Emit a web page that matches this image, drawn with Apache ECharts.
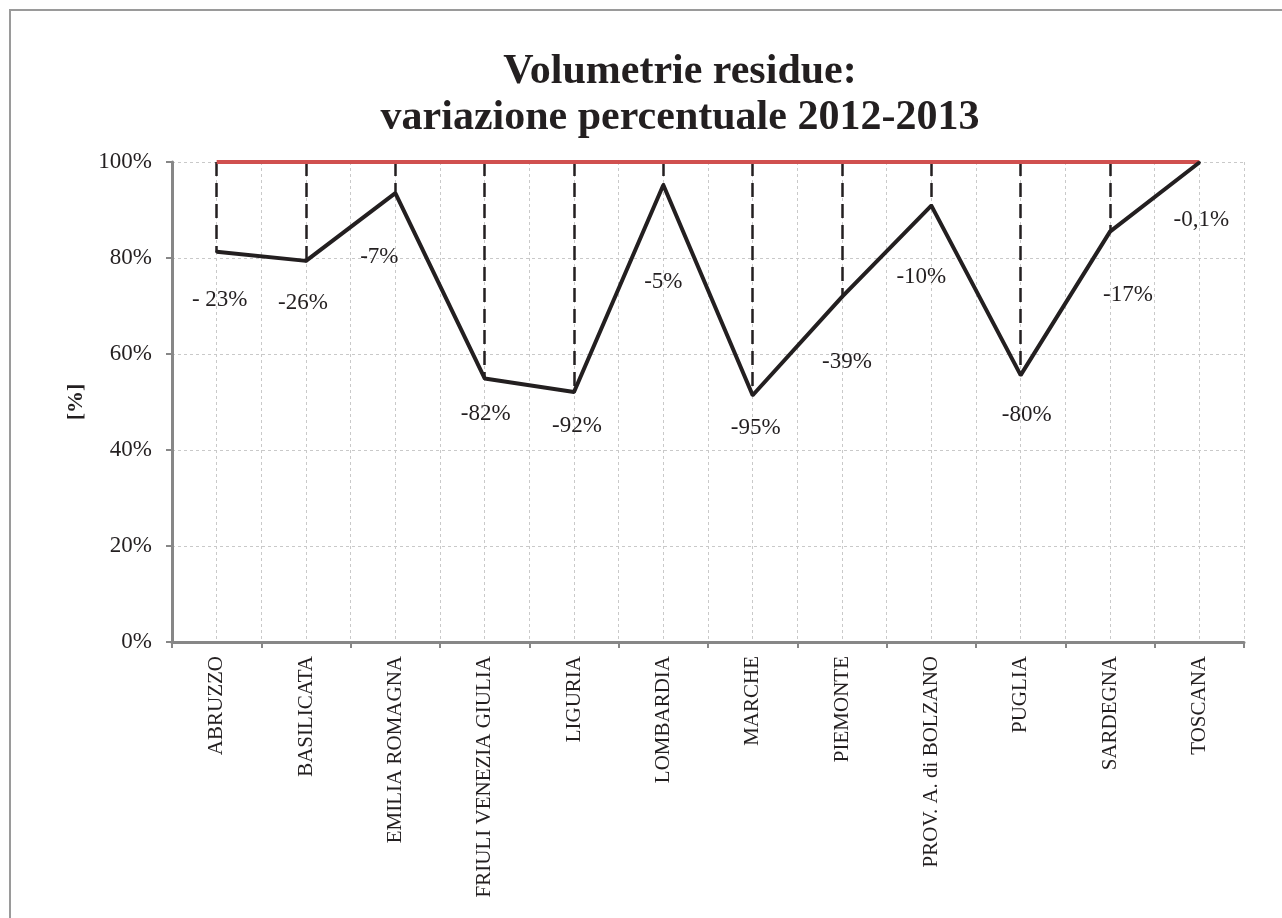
<!DOCTYPE html>
<html>
<head>
<meta charset="utf-8">
<title>Volumetrie residue</title>
<script src="https://cdn.jsdelivr.net/npm/echarts@6/dist/echarts.min.js"></script>
<style>
  html, body { margin: 0; padding: 0; background: #fff; }
  #chart { width: 1282px; height: 918px; }
</style>
</head>
<body>
<div id="chart"></div>
<script>
// regioni
const regions = [
  'ABRUZZO', 'BASILICATA', 'EMILIA ROMAGNA', 'FRIULI VENEZIA GIULIA', 'LIGURIA',
  'LOMBARDIA', 'MARCHE', 'PIEMONTE', 'PROV. A. di BOLZANO', 'PUGLIA', 'SARDEGNA', 'TOSCANA'
]
// volumetrie residue 2013 rispetto al 2012 (%)
const residue = [81.3, 79.4, 93.5, 54.9, 52.1, 95.2, 51.4, 71.9, 90.9, 55.6, 85.5, 99.9]
// riferimento 2012 = 100%
const reference = [100, 100, 100, 100, 100, 100, 100, 100, 100, 100, 100, 100]
// etichette variazione
const changeLabels = ['- 23%', '-26%', '-7%', '-82%', '-92%', '-5%', '-95%', '-39%', '-10%', '-80%', '-17%', '-0,1%']
const yTicks = [0, 20, 40, 60, 80, 100]

const serif = '"Liberation Serif", "Times New Roman", serif'
const ink = '#231f20'

// spostamento etichette (px) rispetto al punto
const labelShift = [
  [3, 48], [-3, 42], [-16, 64], [1, 35], [3, 34], [0, 97],
  [3, 33], [5, 65], [-10, 71], [6, 40], [18, 63], [2, 57]
]

const chart = echarts.init(document.getElementById('chart'))

const grid = { left: 172, right: 38, top: 162, bottom: 276 }

const option = {
  animation: false,
  backgroundColor: '#fff',
  graphic: [
    {
      type: 'rect',
      shape: { x: 10, y: 10, width: 1400, height: 1000 },
      style: { fill: 'none', stroke: '#9a9a9a', lineWidth: 2 },
      silent: true
    },
    {
      type: 'text',
      x: 680, y: 72,
      style: {
        text: 'Volumetrie residue:',
        font: 'bold 42px ' + serif,
        fill: ink, align: 'center', verticalAlign: 'middle'
      }
    },
    {
      type: 'text',
      x: 680, y: 118,
      style: {
        text: 'variazione percentuale 2012-2013',
        font: 'bold 42px ' + serif,
        fill: ink, align: 'center', verticalAlign: 'middle'
      }
    }
  ],
  grid: grid,
  xAxis: [
    {
      type: 'category',
      data: regions,
      boundaryGap: true,
      axisLine: { lineStyle: { color: '#878787', width: 3 } },
      axisTick: { show: true, length: 6, lineStyle: { color: '#878787', width: 2 } },
      axisLabel: {
        rotate: 90,
        interval: 0,
        margin: 14,
        fontFamily: serif,
        fontSize: 21,
        color: ink
      },
      splitLine: { show: false }
    },
    {
      // griglia verticale ogni mezza categoria
      type: 'value',
      min: 0,
      max: regions.length * 2,
      interval: 1,
      show: true,
      position: 'top',
      axisLine: { show: false },
      axisTick: { show: false },
      axisLabel: { show: false },
      splitLine: { show: true, lineStyle: { color: '#c9c9c9', width: 1, type: [3, 3] } }
    }
  ],
  yAxis: {
    type: 'value',
    min: 0,
    max: 100,
    interval: 20,
    name: '[%]',
    nameLocation: 'middle',
    nameGap: 83,
    nameTextStyle: {
      fontFamily: serif,
      fontSize: 22,
      fontWeight: 'bold',
      color: ink
    },
    axisLine: { show: true, lineStyle: { color: '#878787', width: 3 } },
    axisTick: { show: true, length: 6, lineStyle: { color: '#878787', width: 2 } },
    axisLabel: {
      margin: 20,
      fontFamily: serif,
      fontSize: 23,
      color: ink,
      formatter: v => yTicks.includes(v) ? v + '%' : ''
    },
    splitLine: { show: true, lineStyle: { color: '#c9c9c9', width: 1, type: [3, 3] } }
  },
  series: [
    {
      type: 'line',
      name: 'riferimento',
      data: reference,
      symbol: 'none',
      z: 4,
      lineStyle: { color: '#d0504f', width: 4 }
    },
    {
      type: 'line',
      name: 'residue',
      data: residue.map((v, i) => ({
        value: v,
        label: { offset: labelShift[i] }
      })),
      symbol: 'circle',
      symbolSize: 3,
      itemStyle: { color: ink },
      lineStyle: { color: ink, width: 4 },
      z: 5,
      label: {
        show: true,
        position: 'inside',
        align: 'center',
        verticalAlign: 'middle',
        fontFamily: serif,
        fontSize: 23,
        color: ink,
        formatter: p => changeLabels[p.dataIndex]
      },
      markLine: {
        silent: true,
        symbol: 'none',
        z: 3,
        label: { show: false },
        lineStyle: { color: ink, width: 2.5, type: [14, 7] },
        data: residue.map((v, i) => [
          { coord: [regions[i], 100] },
          { coord: [regions[i], v] }
        ])
      }
    }
  ]
}

chart.setOption(option)
</script>
</body>
</html>
